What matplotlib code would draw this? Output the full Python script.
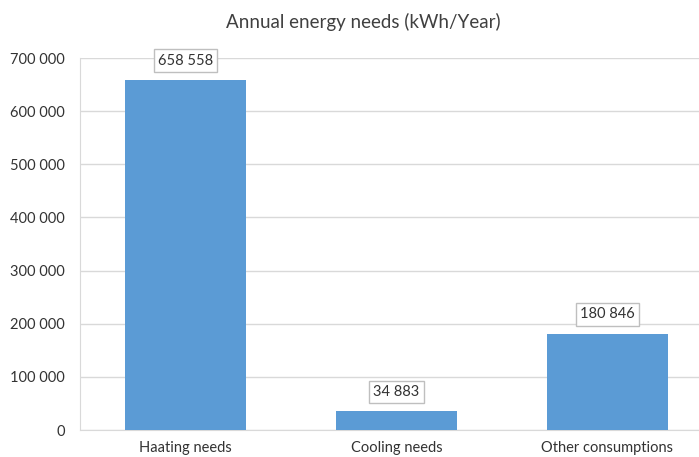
import matplotlib.pyplot as plt

categories = ["Haating needs", "Cooling needs", "Other consumptions"]
values = [658558, 34883, 180846]
yticks = [0, 100000, 200000, 300000, 400000, 500000, 600000, 700000]


def fmt(v):
    return f"{v:,}".replace(",", " ")


plt.rcParams['font.family'] = ['Lato', 'DejaVu Sans']

fig = plt.figure(figsize=(6.99, 4.57), dpi=100)
ax = fig.add_axes([0.1144, 0.059, 0.9056, 0.814])

x = range(len(categories))
bars = ax.bar(x, values, width=0.57, color="#5B9BD5", zorder=3)

ax.set_xlim(-0.5, 2.5)
ax.set_ylim(0, 700000)
ax.set_yticks(yticks)
ax.set_yticklabels([fmt(t) for t in yticks], fontsize=10.5, color="#333333")
ax.set_xticks(list(x))
ax.set_xticklabels(categories, fontsize=10.5, color="#333333")
ax.tick_params(length=0, pad=8)
ax.tick_params(axis="y", pad=11)

ax.grid(axis="y", color="#d9d9d9", linewidth=1, zorder=0)
for s in ["top", "right"]:
    ax.spines[s].set_visible(False)
ax.spines["left"].set_color("#d9d9d9")
ax.spines["bottom"].set_color("#d9d9d9")

for xi, v in zip(x, values):
    ax.annotate(fmt(v), (xi, v), xytext=(0, 14), textcoords="offset points",
                ha="center", va="center", fontsize=10.5, color="#333333", zorder=5,
                bbox=dict(boxstyle="square,pad=0.3", fc="white", ec="#bfbfbf", lw=1))

fig.text(0.52, 0.952, "Annual energy needs (kWh/Year)", ha="center", va="center",
         fontsize=13.5, color="#404040")

fig.savefig("out.png", dpi=100)
